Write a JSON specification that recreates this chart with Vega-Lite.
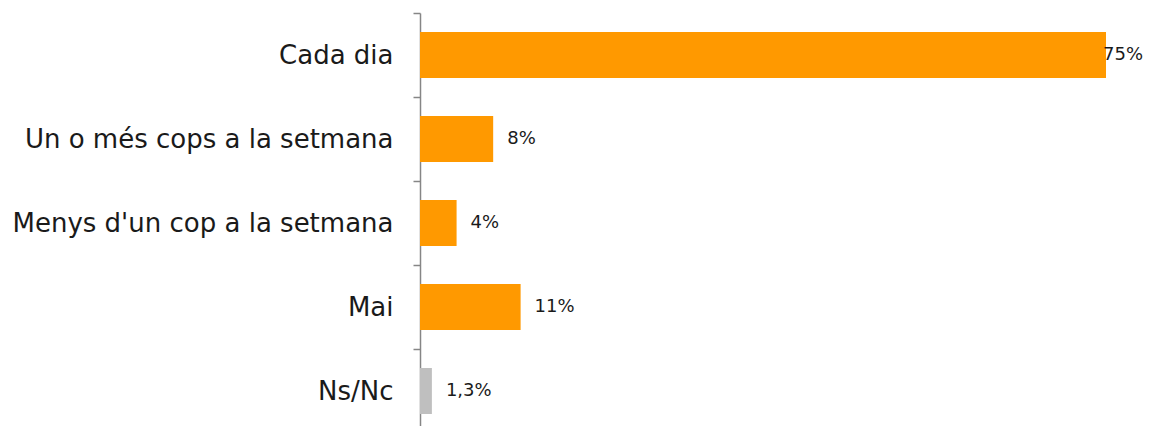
{
  "$schema": "https://vega.github.io/schema/vega-lite/v6.json",
  "width": 686,
  "height": 420,
  "autosize": {"type": "none"},
  "padding": {"left": 420, "top": 13, "right": 45, "bottom": 0},
  "background": "white",
  "config": {"view": {"stroke": null}},
  "data": {"values": [
    {"cat": "Cada dia", "pct": 75, "label": "75%", "grp": "a"},
    {"cat": "Un o més cops a la setmana", "pct": 8, "label": "8%", "grp": "a"},
    {"cat": "Menys d'un cop a la setmana", "pct": 4, "label": "4%", "grp": "a"},
    {"cat": "Mai", "pct": 11, "label": "11%", "grp": "a"},
    {"cat": "Ns/Nc", "pct": 1.3, "label": "1,3%", "grp": "b"}
  ]},
  "encoding": {
    "y": {
      "field": "cat", "type": "nominal", "sort": null,
      "scale": {"paddingInner": 0, "paddingOuter": 0},
      "axis": {
        "title": null, "tickBand": "extent", "tickSize": 7, "tickColor": "#868686",
        "domainColor": "#868686", "domainWidth": 1.5, "tickWidth": 1.5,
        "labelPadding": 20, "labelFont": "DejaVu Sans", "labelFontSize": 26,
        "labelColor": "#1a1a1a", "labelLimit": 500
      }
    }
  },
  "layer": [
    {
      "mark": {"type": "bar", "size": 46},
      "encoding": {
        "x": {"field": "pct", "type": "quantitative", "scale": {"domain": [0, 75], "nice": false}, "axis": null},
        "color": {"field": "grp", "type": "nominal", "scale": {"domain": ["a", "b"], "range": ["#FF9900", "#BFBFBF"]}, "legend": null}
      }
    },
    {
      "transform": [{"filter": "datum.pct < 50"}],
      "mark": {"type": "text", "align": "left", "dx": 14, "font": "DejaVu Sans", "fontSize": 18, "color": "#1a1a1a"},
      "encoding": {
        "x": {"field": "pct", "type": "quantitative"},
        "text": {"field": "label"}
      }
    },
    {
      "transform": [{"filter": "datum.pct >= 50"}],
      "mark": {"type": "text", "align": "left", "dx": -3, "font": "DejaVu Sans", "fontSize": 18, "color": "#1a1a1a"},
      "encoding": {
        "x": {"field": "pct", "type": "quantitative"},
        "text": {"field": "label"}
      }
    }
  ]
}
